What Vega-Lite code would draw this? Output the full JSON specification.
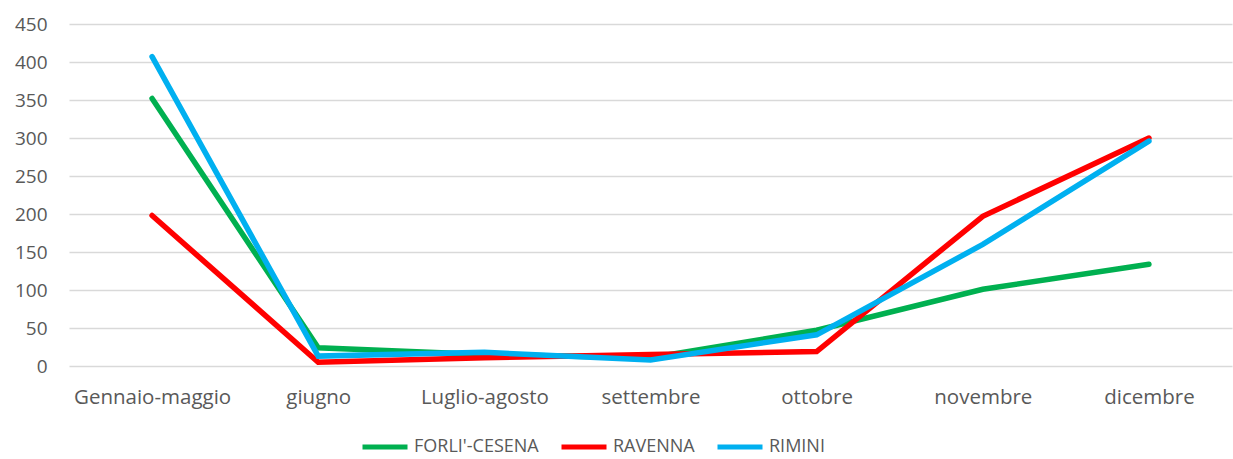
{
  "$schema": "https://vega.github.io/schema/vega-lite/v6.json",
  "width": 1163,
  "height": 342,
  "autosize": {"type": "none"},
  "padding": {"left": 69, "top": 24, "right": 1, "bottom": 93},
  "background": "white",
  "config": {
    "view": {"stroke": null},
    "font": "Open Sans",
    "axis": {"labelFont": "Open Sans", "labelColor": "#595959", "labelFontSize": 19, "titleFont": "Open Sans"},
    "legend": {"labelFont": "Open Sans", "labelColor": "#595959", "labelFontSize": 18}
  },
  "data": {
    "values": [
      {"periodo": "Gennaio-maggio", "provincia": "FORLI'-CESENA", "valore": 352},
      {"periodo": "giugno", "provincia": "FORLI'-CESENA", "valore": 24},
      {"periodo": "Luglio-agosto", "provincia": "FORLI'-CESENA", "valore": 15},
      {"periodo": "settembre", "provincia": "FORLI'-CESENA", "valore": 11},
      {"periodo": "ottobre", "provincia": "FORLI'-CESENA", "valore": 47},
      {"periodo": "novembre", "provincia": "FORLI'-CESENA", "valore": 101},
      {"periodo": "dicembre", "provincia": "FORLI'-CESENA", "valore": 134},
      {"periodo": "Gennaio-maggio", "provincia": "RAVENNA", "valore": 198},
      {"periodo": "giugno", "provincia": "RAVENNA", "valore": 5},
      {"periodo": "Luglio-agosto", "provincia": "RAVENNA", "valore": 11},
      {"periodo": "settembre", "provincia": "RAVENNA", "valore": 15},
      {"periodo": "ottobre", "provincia": "RAVENNA", "valore": 19},
      {"periodo": "novembre", "provincia": "RAVENNA", "valore": 197},
      {"periodo": "dicembre", "provincia": "RAVENNA", "valore": 300},
      {"periodo": "Gennaio-maggio", "provincia": "RIMINI", "valore": 407},
      {"periodo": "giugno", "provincia": "RIMINI", "valore": 13},
      {"periodo": "Luglio-agosto", "provincia": "RIMINI", "valore": 18},
      {"periodo": "settembre", "provincia": "RIMINI", "valore": 8},
      {"periodo": "ottobre", "provincia": "RIMINI", "valore": 41},
      {"periodo": "novembre", "provincia": "RIMINI", "valore": 160},
      {"periodo": "dicembre", "provincia": "RIMINI", "valore": 296}
    ]
  },
  "mark": {"type": "line", "strokeWidth": 5.5, "strokeCap": "round", "strokeJoin": "miter"},
  "encoding": {
    "x": {
      "field": "periodo",
      "type": "nominal",
      "sort": ["Gennaio-maggio", "giugno", "Luglio-agosto", "settembre", "ottobre", "novembre", "dicembre"],
      "scale": {"type": "point", "padding": 0.5},
      "axis": {"title": null, "labelAngle": 0, "domain": false, "ticks": false, "grid": false, "labelPadding": 21, "labelFontSize": 20.5}
    },
    "y": {
      "field": "valore",
      "type": "quantitative",
      "scale": {"domain": [0, 450], "nice": false},
      "axis": {"title": null, "values": [0, 50, 100, 150, 200, 250, 300, 350, 400, 450], "domain": false, "ticks": false, "gridColor": "#D9D9D9", "gridWidth": 1.5, "labelPadding": 22}
    },
    "color": {
      "field": "provincia",
      "type": "nominal",
      "sort": ["FORLI'-CESENA", "RAVENNA", "RIMINI"],
      "scale": {"domain": ["FORLI'-CESENA", "RAVENNA", "RIMINI"], "range": ["#00B050", "#FF0000", "#00B0F0"]},
      "legend": {
        "title": null,
        "orient": "none",
        "direction": "horizontal",
        "legendX": 291,
        "legendY": 398,
        "symbolType": "stroke",
        "symbolSize": 2025,
        "symbolStrokeWidth": 5,
        "labelOffset": 4,
        "columnPadding": 12
      }
    }
  }
}
